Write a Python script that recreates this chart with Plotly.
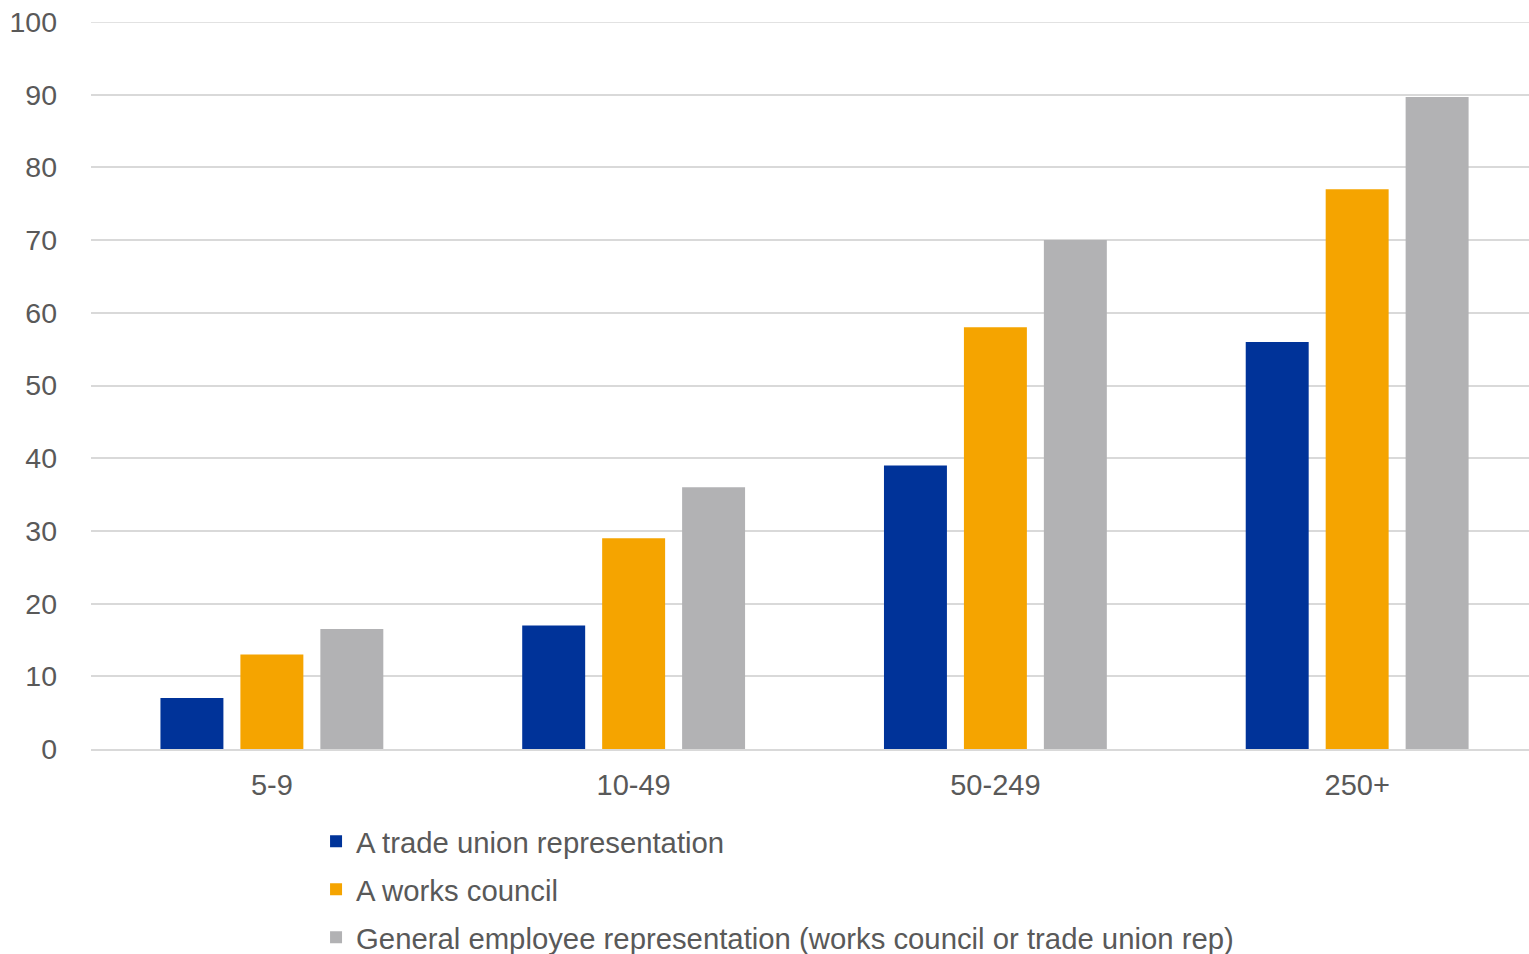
import plotly.graph_objects as go

categories = ["5-9", "10-49", "50-249", "250+"]
trade_union = [7, 17, 39, 56]
works_council = [13, 29, 58, 77]
general_rep = [16.5, 36, 70, 89.7]
series_names = [
    "A trade union representation",
    "A works council",
    "General employee representation (works council or trade union rep)",
]
colors = ["#003399", "#F5A400", "#B2B2B4"]
y_max = 100

fig = go.Figure()
for i, (name, vals, col) in enumerate(zip(series_names, [trade_union, works_council, general_rep], colors)):
    fig.add_trace(go.Bar(
        x=categories, y=vals, name=name, marker_color=col,
        marker_line_width=0, legendgroup=f"g{i}",
    ))

# top gridline (Plotly omits the gridline at the range edge)
fig.add_shape(type="line", xref="paper", x0=0, x1=1, yref="y", y0=y_max, y1=y_max,
              line=dict(color="#D9D9D9", width=1.5), layer="below")

font_family = "Liberation Sans, Arial, sans-serif"
fig.update_layout(
    width=1529, height=954,
    margin=dict(l=91, r=0, t=22, b=205, autoexpand=False),
    paper_bgcolor="white", plot_bgcolor="white",
    barmode="group", bargap=0.337, bargroupgap=0.2125,
    font=dict(family=font_family, size=29, color="#595959"),
    legend=dict(
        x=0.1565, y=-0.0916, xanchor="left", yanchor="top",
        orientation="v", tracegroupgap=7,
        font=dict(family=font_family, size=29.3, color="#595959"),
        bgcolor="rgba(0,0,0,0)",
    ),
    showlegend=True,
)
fig.update_yaxes(
    range=[0, y_max], dtick=10, tick0=0, showgrid=True, gridcolor="#D9D9D9", gridwidth=1.5,
    zeroline=False, showline=False, ticks="", ticklabelstandoff=33,
    tickfont=dict(size=28.5, color="#595959"), automargin=False,
)
fig.update_xaxes(
    range=[-0.5, 3.475],
    showline=True, linecolor="#D9D9D9", linewidth=1.5, ticks="",
    ticklabelstandoff=9, tickfont=dict(size=29, color="#595959"), automargin=False,
)
fig.write_html("out.html", config={"displayModeBar": False},
               post_script="document.body.style.margin='0';")
